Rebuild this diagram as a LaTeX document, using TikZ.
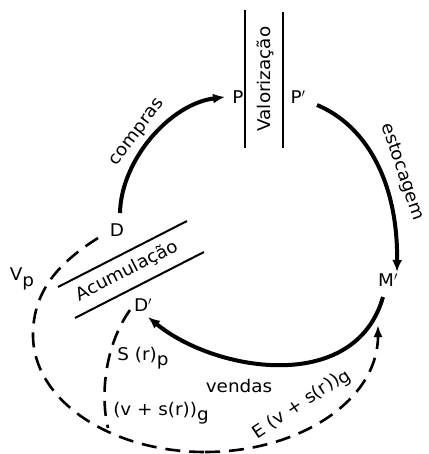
\documentclass[tikz,border=0pt]{standalone}
\usepackage{fontspec}
\setmainfont{DejaVu Sans}[FakeStretch=1.05]
\usetikzlibrary{arrows.meta}
\newcommand\dnsub[1]{\raisebox{-0.3em}{#1}}
\tikzset{
  every node/.style={font=\fontsize{17.5}{20}\selectfont, inner sep=0pt},
  flow/.style={line width=4pt, -{Latex[length=12pt,width=10pt]}},
  barline/.style={line width=2pt},
  dashline/.style={line width=2.6pt, dash pattern=on 15pt off 9pt},
  dasharrow/.style={dashline, -{Latex[length=12pt,width=9pt]}}
}
\begin{document}
\begin{tikzpicture}[x=1pt,y=-1pt]
\useasboundingbox (0,0) rectangle (428,454);
% nodes
\node (P)  at (238,97) {P};
\node (Pp) at (298,97) {P$'$};
\node (D)  at (117,230) {D};
\node (Dp) at (143,305) {D$'$};
\node (Mp) at (388,280) {M$'$};
\node (Vp) at (22,279) {V\dnsub{p}};
\node[rotate=90] (val) at (265,79) {Valorização};
\node[rotate=27] (acu) at (127,271) {Acumulação};
\node[rotate=53] (comp) at (138,133) {compras};
\node[rotate=-71] (esto) at (402,172) {estocagem};
\node (vend) at (239,386) {vendas};
\node (srp) at (143,358) {S (r)\dnsub{p}};
\node (vsg) at (161,413) {(v + s(r))\dnsub{g}};
\node[rotate=34] (evs) at (302,405) {E (v + s(r))\raisebox{-0.15em}{g}};
% connector end points
\coordinate (dA) at (120,213);
\coordinate (pA) at (225,97);
\coordinate (pB) at (317,105);
\coordinate (mA) at (397,272);
\coordinate (mB) at (383,297);
\coordinate (dB) at (148,317);
\coordinate (dC) at (98,238);
\coordinate (left) at (33,335);
\coordinate (bot) at (205,452);
\coordinate (mC) at (378,325);
\coordinate (dD) at (130,310);
\coordinate (join) at (108,428);
% bars
\draw[barline] (245,10) -- (245,148);
\draw[barline] (283,12) -- (283,148);
\draw[barline] (58,287) -- (187,221);
\draw[barline] (75,318) -- (204,252);
% solid flows
\draw[flow] (dA) .. controls (121,160) and (170,104) .. (pA);
\draw[flow] (pB) .. controls (365,125) and (398,180) .. (mA);
\draw[flow] (mB) .. controls (355,395) and (215,372) .. (dB);
% dashed
\draw[dashline] (dC) .. controls (60,262) and (33,290) .. (left)
   .. controls (33,400) and (110,452) .. (bot);
\draw[dasharrow] (bot) .. controls (300,452) and (378,400) .. (mC);
\draw[dashline] (dD) .. controls (105,345) and (100,395) .. (join);
\end{tikzpicture}
\end{document}
